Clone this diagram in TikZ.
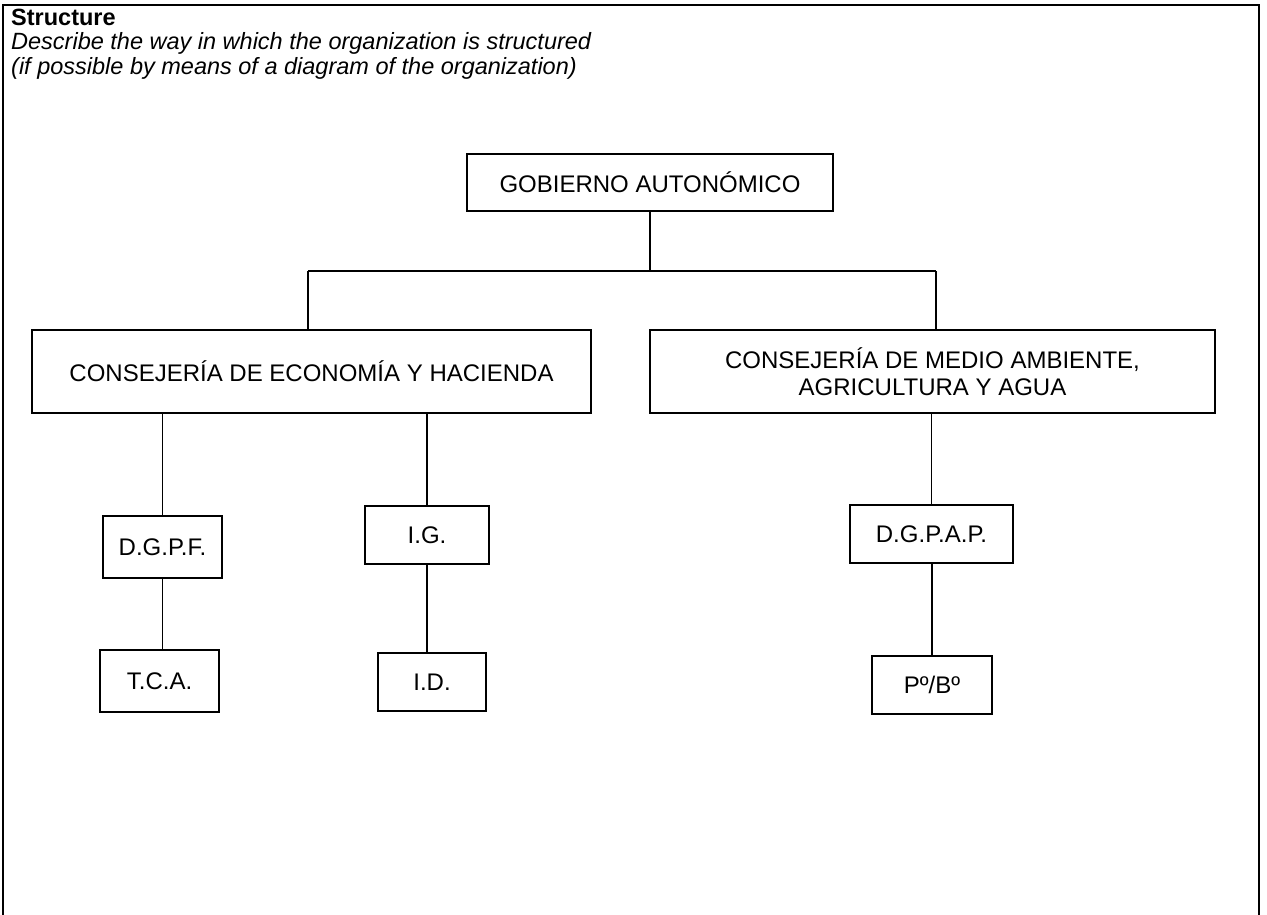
\documentclass[tikz,border=0pt]{standalone}
\usepackage{fontspec}
\setmainfont{Liberation Sans}
\begin{document}
\begin{tikzpicture}[x=1pt,y=-1pt,
  orgbox/.style={draw, line width=1.7pt, inner sep=0pt, align=center,
    font=\fontsize{24}{27}\selectfont},
  link/.style={line width=1.6pt},
  frame/.style={line width=2.6pt},
  hdr/.style={anchor=base west, inner sep=0pt, font=\fontsize{23.5}{26}\selectfont}]
\useasboundingbox (0,0) rectangle (1267,915);
% outer frame (open at the bottom)
\draw[frame] (3,915) -- (3,5) -- (1259,5) -- (1259,915);
% header texts
\node[hdr] (h1) at (11,26) {\bfseries Structure};
\node[hdr] (h2) at (11,50) {\itshape Describe the way in which the organization is structured};
\node[hdr] (h3) at (11,75) {\itshape (if possible by means of a diagram of the organization)};
% boxes
\node[orgbox, minimum width=366pt, minimum height=57pt] (gob) at (650,182.5) {GOBIERNO AUTONÓMICO};
\node[orgbox, minimum width=559pt, minimum height=83pt] (ceh) at (311.5,371.5) {CONSEJERÍA DE ECONOMÍA Y HACIENDA};
\node[orgbox, minimum width=565pt, minimum height=83pt] (cmaa) at (932.5,371.5) {CONSEJERÍA DE MEDIO AMBIENTE,\\AGRICULTURA Y AGUA};
\node[orgbox, minimum width=119pt, minimum height=62pt] (dgpf) at (162.5,547) {D.G.P.F.};
\node[orgbox, minimum width=119pt, minimum height=62pt] (tca) at (159.5,681) {T.C.A.};
\node[orgbox, minimum width=124pt, minimum height=58pt] (ig) at (427,535) {I.G.};
\node[orgbox, minimum width=108pt, minimum height=58pt] (id) at (432,682) {I.D.};
\node[orgbox, minimum width=163pt, minimum height=58pt] (dgpap) at (931.5,534) {D.G.P.A.P.};
\node[orgbox, minimum width=120pt, minimum height=58pt] (pb) at (932,685) {Pº/Bº};
% connectors
\coordinate (jl) at (308,271);
\coordinate (jr) at (936,271);
\draw[link] (gob.south) -- (gob.south |- jl);
\draw[link] (jl) -- (jr);
\draw[link] (jl) -- (jl |- ceh.north);
\draw[link] (jr) -- (jr |- cmaa.north);
\draw[link] (ceh.south -| dgpf.north) -- (dgpf.north);
\draw[link] (ceh.south -| ig.north) -- (ig.north);
\draw[link] (dgpf.south) -- (dgpf.south |- tca.north);
\draw[link] (ig.south) -- (ig.south |- id.north);
\draw[link] (cmaa.south -| dgpap.north) -- (dgpap.north);
\draw[link] (dgpap.south -| pb.north) -- (pb.north);
\end{tikzpicture}
\end{document}
